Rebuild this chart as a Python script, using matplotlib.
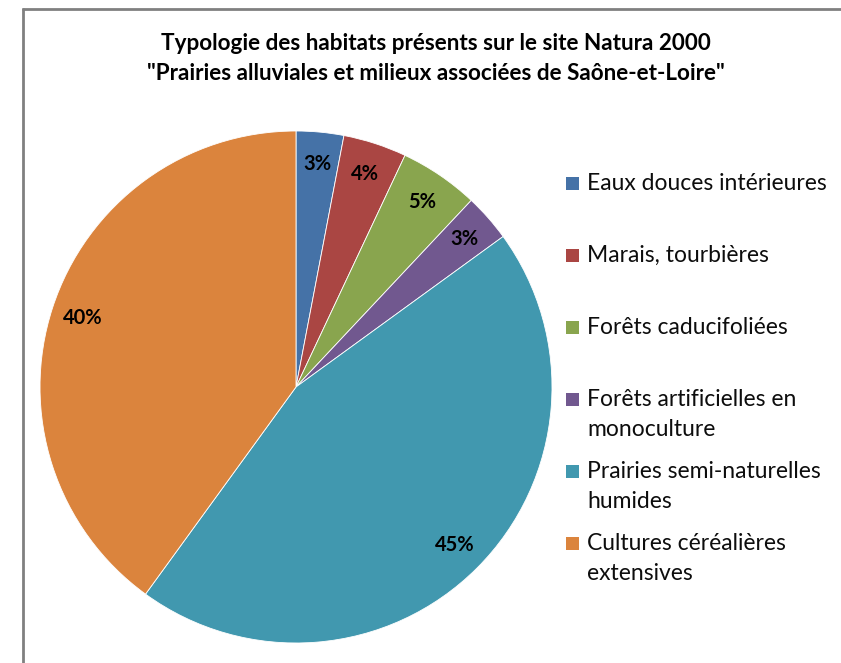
import matplotlib
matplotlib.use("Agg")
import matplotlib.pyplot as plt
from matplotlib.patches import Rectangle
from matplotlib.lines import Line2D

categories = [
    "Eaux douces intérieures",
    "Marais, tourbières",
    "Forêts caducifoliées",
    "Forêts artificielles en\nmonoculture",
    "Prairies semi-naturelles\nhumides",
    "Cultures céréalières\nextensives",
]
values = [3, 4, 5, 3, 45, 40]
colors = ["#4572A7", "#AA4643", "#89A54E", "#71588F", "#4198AF", "#DB843D"]
title = ("Typologie des habitats présents sur le site Natura 2000\n"
         "\"Prairies alluviales et milieux associées de Saône-et-Loire\"")

W, H = 841, 663
plt.rcParams['font.family'] = ['Lato', 'DejaVu Sans']
fig = plt.figure(figsize=(W / 100, H / 100), dpi=100)
ax = fig.add_axes([0, 0, 1, 1])

cx, cy, r = 296, H - 387, 256
wedges, texts, autotexts = ax.pie(
    values, colors=colors, startangle=90, counterclock=False,
    center=(cx, cy), radius=r, autopct='%d%%', pctdistance=0.875,
    wedgeprops=dict(edgecolor='white', linewidth=0.6),
    textprops=dict(fontsize=14.5, fontweight='bold', color='#000000'))
ax.set_xlim(0, W)
ax.set_ylim(0, H)
ax.set_aspect('equal')
ax.axis('off')

# Title
ax.text(436, H - 58.5, title, ha='center', va='center', fontsize=16.2,
        fontweight='bold', color='#000000', linespacing=1.5)

# Legend (manual layout)
y0 = 183
pitch = 72
for i, (lab, col) in enumerate(zip(categories, colors)):
    y = y0 + i * pitch
    ax.add_patch(Rectangle((566, H - y - 7), 13, 13, facecolor=col, edgecolor='none'))
    for j, ln in enumerate(lab.split('\n')):
        ax.text(587, H - (y + j * 31), ln, ha='left', va='center',
                fontsize=16.5, color='#0d0d0d')

# Frame border
border = dict(color='#808080', linewidth=2, solid_capstyle='butt')
fig.add_artist(Line2D([23 / W, 23 / W], [0, 1 - 8 / H], transform=fig.transFigure, **border))
fig.add_artist(Line2D([22 / W, 1], [1 - 8.5 / H, 1 - 8.5 / H], transform=fig.transFigure, **border))

fig.savefig("out.png", dpi=100)
